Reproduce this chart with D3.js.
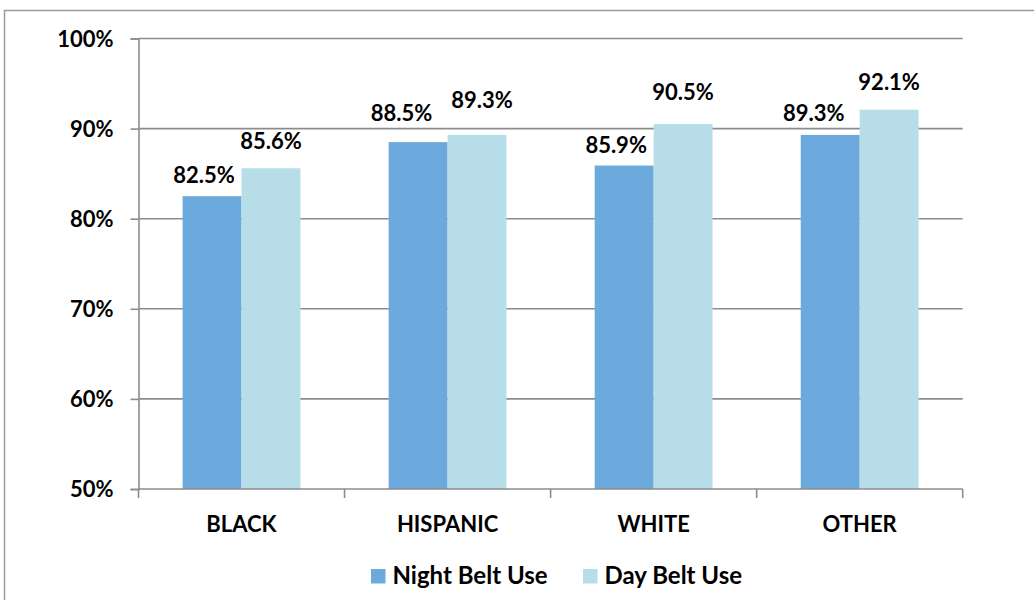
<!DOCTYPE html>
<html><head><meta charset="utf-8">
<script src="https://cdn.jsdelivr.net/npm/d3@7"></script>
<style>
html,body{margin:0;padding:0;background:#fff;}
svg{display:block;font-family:Lato,"Open Sans",sans-serif;font-weight:bold;}
</style></head>
<body>
<svg id="chart" width="1034" height="600"></svg>
<script>
const categories = ["BLACK", "HISPANIC", "WHITE", "OTHER"];
const seriesNames = ["Night Belt Use", "Day Belt Use"];
const nightBeltUse = [82.5, 88.5, 85.9, 89.3];
const dayBeltUse = [85.6, 89.3, 90.5, 92.1];
const yTicks = [50, 60, 70, 80, 90, 100];

// label nudges (layout only): [dx from bar centre, gap above bar top]
const labelNudge = [
  [[-8, 13], [0, 19]],
  [[-16.5, 21.5], [5, 27]],
  [[-8, 12.5], [0, 24]],
  [[-16.5, 14], [0, 20]]
];

const colors = ["#6CA9DD", "#B7DEE8"];
const svg = d3.select("#chart");

// outer border
svg.append("rect").attr("x", 4.5).attr("y", 10.5).attr("width", 1040).attr("height", 600)
  .attr("fill", "none").attr("stroke", "#9a9a9a").attr("stroke-width", 1.5);

const pLeft = 138.5, pRight = 962.7, pTop = 38.5, pBottom = 489;
const x = d3.scaleBand().domain(categories).range([pLeft, pRight])
  .paddingInner(0.428).paddingOuter(0.214);
const xs = d3.scaleBand().domain(seriesNames).range([0, x.bandwidth()]);
const y = d3.scaleLinear().domain([50, 100]).range([pBottom, pTop]);

// gridlines
svg.append("g").selectAll("line").data(yTicks.filter(t => t > 50)).join("line")
  .attr("x1", pLeft).attr("x2", pRight)
  .attr("y1", d => y(d)).attr("y2", d => y(d))
  .attr("stroke", "#8c8c8c").attr("stroke-width", 1.6);

// bars
const series = [nightBeltUse, dayBeltUse];
const barData = [];
categories.forEach((c, i) => series.forEach((s, j) => barData.push({c, i, j, v: s[i], name: seriesNames[j]})));
svg.append("g").selectAll("rect").data(barData).join("rect")
  .attr("x", d => x(d.c) + xs(d.name))
  .attr("width", xs.bandwidth())
  .attr("y", d => y(d.v))
  .attr("height", d => y(50) - y(d.v))
  .attr("fill", d => colors[d.j]);

// y axis
const yAxis = svg.append("g").attr("transform", `translate(${pLeft},0)`)
  .call(d3.axisLeft(y).tickValues(yTicks).tickFormat(d => d + "%").tickSize(8).tickPadding(17));
yAxis.select(".domain").attr("stroke", "#8c8c8c").attr("stroke-width", 1.6);
yAxis.selectAll(".tick line").attr("stroke", "#8c8c8c").attr("stroke-width", 1.6);
yAxis.selectAll(".tick text").attr("fill", "#000").style("font-size", "22px")
  .style("font-family", "Lato, sans-serif").style("font-weight", "bold").attr("dy", "0.36em");

// x axis
const xAxis = svg.append("g").attr("transform", `translate(0,${pBottom})`);
xAxis.append("line").attr("x1", pLeft).attr("x2", pRight).attr("stroke", "#8c8c8c").attr("stroke-width", 1.6);
const bounds = categories.map(c => x(c) - x.step() * x.paddingOuter());
bounds.push(pRight);
xAxis.selectAll("line.tk").data(bounds).join("line").attr("class", "tk")
  .attr("x1", d => d).attr("x2", d => d).attr("y1", 0).attr("y2", 9)
  .attr("stroke", "#8c8c8c").attr("stroke-width", 1.6);
xAxis.selectAll("text").data(categories).join("text")
  .attr("x", d => x(d) + x.bandwidth() / 2).attr("y", 43)
  .attr("text-anchor", "middle").style("font-size", "22px").text(d => d);

// value labels
svg.append("g").selectAll("text").data(barData).join("text")
  .attr("x", d => x(d.c) + xs(d.name) + xs.bandwidth() / 2 + labelNudge[d.i][d.j][0])
  .attr("y", d => y(d.v) - labelNudge[d.i][d.j][1])
  .attr("text-anchor", "middle").style("font-size", "22px")
  .text(d => d.v.toFixed(1) + "%");

// legend
const legend = svg.append("g");
const legX = [371, 583];
seriesNames.forEach((n, j) => {
  legend.append("rect").attr("x", legX[j]).attr("y", 569).attr("width", 14.5).attr("height", 14.5).attr("fill", colors[j]);
  legend.append("text").attr("x", legX[j] + 21.5).attr("y", 583.5).style("font-size", "24px").text(n);
});
</script>
</body></html>
